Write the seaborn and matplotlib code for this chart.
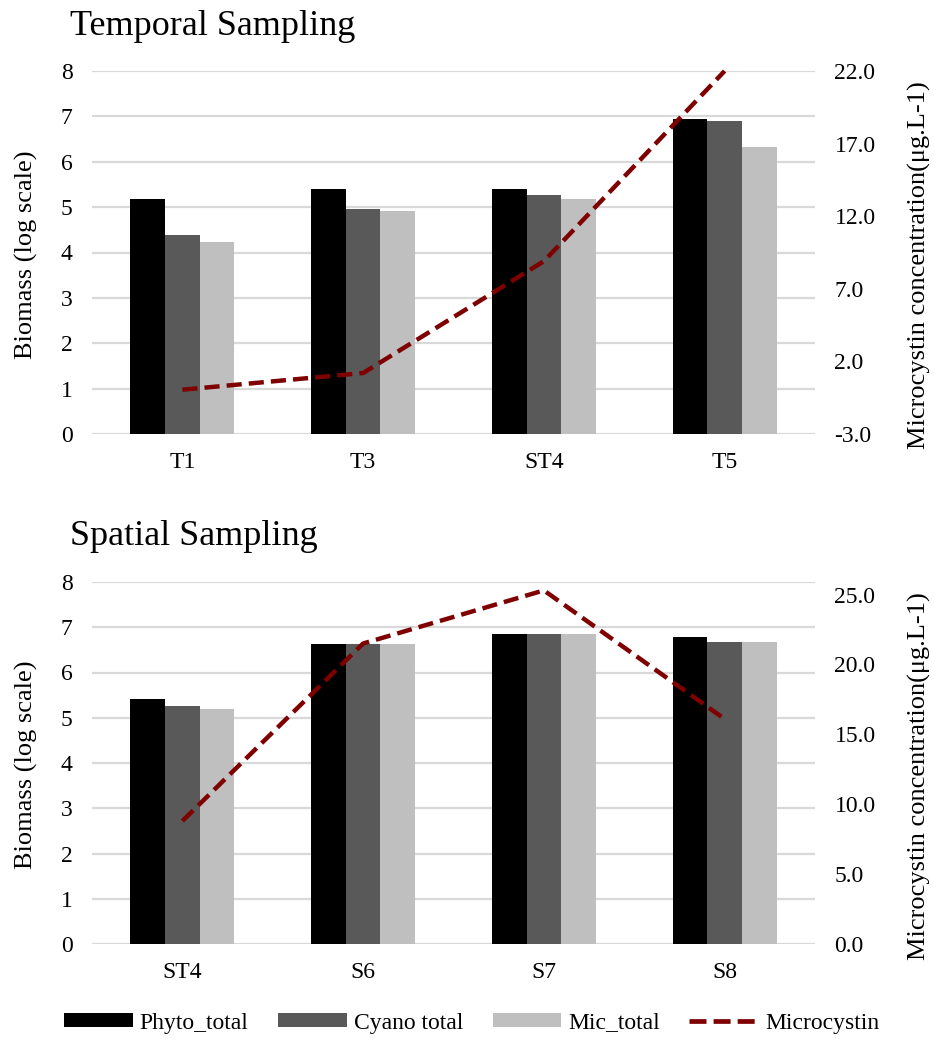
import matplotlib
matplotlib.use("Agg")
import matplotlib.pyplot as plt
from matplotlib.patches import Patch
from matplotlib.lines import Line2D
from matplotlib.ticker import FormatStrFormatter
import seaborn as sns
import pandas as pd

# Temporal sampling
temporal_sites = ["T1", "T3", "ST4", "T5"]
temporal_phyto = [5.17, 5.39, 5.39, 6.94]
temporal_cyano = [4.38, 4.96, 5.26, 6.89]
temporal_mic = [4.24, 4.91, 5.17, 6.32]
temporal_microcystin = [0.05, 1.2, 8.9, 22.0]

# Spatial sampling
spatial_sites = ["ST4", "S6", "S7", "S8"]
spatial_phyto = [5.41, 6.63, 6.86, 6.78]
spatial_cyano = [5.27, 6.63, 6.86, 6.68]
spatial_mic = [5.19, 6.63, 6.86, 6.68]
spatial_microcystin = [8.8, 21.5, 25.3, 16.1]

series_names = ["Phyto_total", "Cyano total", "Mic_total"]
series_colors = ["#000000", "#595959", "#BFBFBF"]
line_color = "#7F0000"
grid_color = "#D9D9D9"

sns.set_theme(style="white")
plt.rcParams["font.family"] = ["Liberation Serif", "DejaVu Serif"]
plt.rcParams["text.color"] = "#000000"
plt.rcParams["axes.labelcolor"] = "#000000"
plt.rcParams["xtick.color"] = "#000000"
plt.rcParams["ytick.color"] = "#000000"

TICK_SIZE = 17
LABEL_SIZE = 19
TITLE_SIZE = 26

fig = plt.figure(figsize=(9.34, 10.39), dpi=100)
W, H = 934, 1039


def add_axes(left, top, right, bottom):
    return fig.add_axes([left / W, 1 - bottom / H, (right - left) / W, (bottom - top) / H])


def draw_panel(ax, sites, phyto, cyano, mic, toxin, ylim2, ticks2, title, title_y):
    df = pd.DataFrame({
        "site": sites * 3,
        "series": [s for s in series_names for _ in sites],
        "biomass": phyto + cyano + mic,
    })
    sns.barplot(data=df, x="site", y="biomass", hue="series", order=sites,
                hue_order=series_names, palette=series_colors, saturation=1,
                width=0.575, linewidth=0, legend=False, ax=ax, zorder=2)
    ax.set_ylim(0, 8)
    ax.set_yticks(range(0, 9))
    ax.set_xlim(-0.5, len(sites) - 0.5)
    ax.yaxis.grid(True, color=grid_color, linewidth=1.6, zorder=0)
    ax.set_axisbelow(True)
    for s in ax.spines.values():
        s.set_visible(False)
    ax.tick_params(axis="both", length=0, labelsize=TICK_SIZE)
    ax.tick_params(axis="x", pad=13)
    ax.tick_params(axis="y", pad=14)
    ax.set_xlabel("")
    ax.set_ylabel("Biomass (log scale)", fontsize=LABEL_SIZE)
    ax.yaxis.set_label_coords(-0.075, 0.495)
    ax.text(-0.030, title_y, title, transform=ax.transAxes, fontsize=TITLE_SIZE,
            ha="left", va="baseline")

    ax2 = ax.twinx()
    ax2.plot(range(len(sites)), toxin, color=line_color, linewidth=3.2,
             linestyle=(0, (3.4, 1.6)), dash_capstyle="butt", clip_on=False)
    ax2.set_ylim(*ylim2)
    ax2.set_yticks(ticks2)
    ax2.yaxis.set_major_formatter(FormatStrFormatter("%.1f"))
    for s in ax2.spines.values():
        s.set_visible(False)
    ax2.tick_params(axis="y", length=0, labelsize=TICK_SIZE, pad=14)
    ax2.grid(False)
    ax2.set_ylabel("Microcystin concentration(μg.L-1)", fontsize=LABEL_SIZE)
    ax2.yaxis.set_label_coords(1.129, 0.465)
    return ax2


ax_top = add_axes(92, 71, 815, 434)
draw_panel(ax_top, temporal_sites, temporal_phyto, temporal_cyano, temporal_mic,
           temporal_microcystin, (-3, 22), [-3, 2, 7, 12, 17, 22],
           "Temporal Sampling", 1.099)

ax_bot = add_axes(92, 582, 815, 944)
draw_panel(ax_bot, spatial_sites, spatial_phyto, spatial_cyano, spatial_mic,
           spatial_microcystin, (0, 25.9), [0, 5, 10, 15, 20, 25],
           "Spatial Sampling", 1.102)

handles = [Patch(facecolor=c, edgecolor="none", label=n)
           for n, c in zip(series_names, series_colors)]
handles.append(Line2D([0], [0], color=line_color, linewidth=3.4,
                      linestyle=(0, (3.6, 1.5)), label="Microcystin"))
fig.legend(handles=handles, loc="center", bbox_to_anchor=(0.505, 1 - 1023 / H),
           ncol=4, frameon=False, fontsize=TICK_SIZE, handlelength=2.9,
           handleheight=0.5, handletextpad=0.3, columnspacing=1.25)

fig.savefig("out.png", dpi=100, facecolor="white")
